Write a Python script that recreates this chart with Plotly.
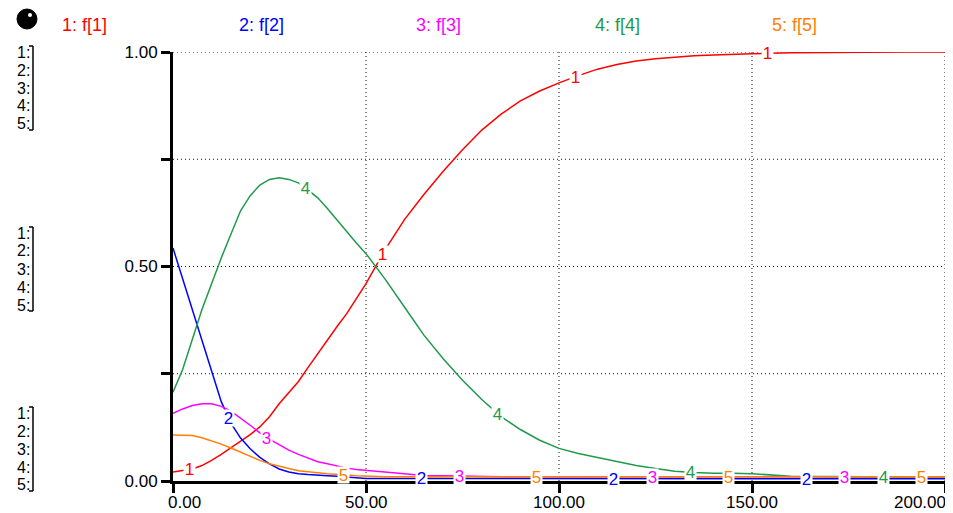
import numpy as np
import plotly.graph_objects as go

FONT = "Liberation Sans, Arial, sans-serif"

# ---------------- data ----------------
time = [0, 2.5, 5, 7.5, 10, 12.5, 15, 17.5, 20, 22.5, 25, 27.5, 30, 32.5, 35, 37.5, 40, 42.5, 45, 47.5, 50,
        55, 60, 65, 70, 75, 80, 85, 90, 95, 100, 105, 110, 115, 120, 125, 130, 135, 140, 145, 150,
        160, 170, 180, 190, 200]

f1 = [0.021, 0.024, 0.028, 0.036, 0.048, 0.062, 0.077, 0.092, 0.108, 0.126, 0.150, 0.180, 0.207, 0.232, 0.265,
      0.297, 0.330, 0.360, 0.390, 0.425, 0.460,
      0.540, 0.610, 0.668, 0.722, 0.772, 0.818, 0.855, 0.886, 0.909, 0.928, 0.945, 0.960, 0.971, 0.979, 0.984,
      0.988, 0.991, 0.993, 0.995, 0.996,
      0.998, 0.999, 1.0, 1.0, 1.0]

f2 = [0.543, 0.471, 0.397, 0.325, 0.254, 0.185, 0.135, 0.100, 0.075, 0.055, 0.040, 0.028, 0.021, 0.017, 0.015,
      0.013, 0.012, 0.011, 0.009, 0.007, 0.006,
      0.006, 0.006, 0.006, 0.006, 0.006, 0.006, 0.006, 0.006, 0.006, 0.006, 0.005, 0.005, 0.005, 0.005, 0.005,
      0.005, 0.005, 0.005, 0.005, 0.005,
      0.005, 0.005, 0.005, 0.005, 0.005]

f3 = [0.158, 0.168, 0.176, 0.180, 0.180, 0.174, 0.163, 0.147, 0.130, 0.112, 0.097, 0.085, 0.072, 0.062, 0.053,
      0.045, 0.040, 0.035, 0.030, 0.027, 0.025,
      0.020, 0.016, 0.013, 0.012, 0.011, 0.010, 0.010, 0.010, 0.010, 0.010, 0.010, 0.010, 0.010, 0.010, 0.010,
      0.010, 0.010, 0.010, 0.010, 0.010,
      0.010, 0.010, 0.010, 0.010, 0.010]

f4 = [0.207, 0.260, 0.330, 0.400, 0.460, 0.520, 0.575, 0.630, 0.665, 0.690, 0.703, 0.707, 0.703, 0.695, 0.678,
      0.660, 0.635, 0.608, 0.580, 0.555, 0.530,
      0.470, 0.405, 0.340, 0.285, 0.235, 0.190, 0.150, 0.120, 0.095, 0.076, 0.064, 0.055, 0.045, 0.036, 0.029,
      0.023, 0.020, 0.018, 0.018, 0.017,
      0.011, 0.010, 0.010, 0.010, 0.010]

f5 = [0.107, 0.107, 0.106, 0.101, 0.094, 0.086, 0.077, 0.067, 0.058, 0.048, 0.040, 0.034, 0.029, 0.024, 0.021,
      0.019, 0.017, 0.016, 0.014, 0.012, 0.011,
      0.010, 0.010, 0.010, 0.010, 0.010, 0.010, 0.010, 0.010, 0.010, 0.010, 0.010, 0.010, 0.010, 0.010, 0.010,
      0.010, 0.010, 0.010, 0.010, 0.010,
      0.010, 0.010, 0.010, 0.010, 0.010]

series_names = ["1: f[1]", "2: f[2]", "3: f[3]", "4: f[4]", "5: f[5]"]
series_values = [f1, f2, f3, f4, f5]
series_colors = ["#ff0000", "#0000ff", "#ff00ff", "#1f9a4c", "#ff8000"]

x_tick_vals = [0, 50, 100, 150, 200]
x_tick_text = ["0.00", "50.00", "100.00", "150.00", "200.00"]
y_tick_vals = [0, 0.25, 0.5, 0.75, 1.0]
y_tick_text = ["0.00", "", "0.50", "", "1.00"]

# ---------------- layout geometry ----------------
# the page body has an 8px margin, so the figure is placed 8px right/down
OFF = 8
W, H = 953 - OFF, 513 - OFF
L, T = 173 - OFF, 52 - OFF
PW, PH = 772, 429
R = W - L - PW
B = H - T - PH


def px_x(p):
    """page pixel x -> paper fraction"""
    return (p - OFF - L) / PW


def px_y(p):
    """page pixel y -> paper fraction"""
    return (T + PH - (p - OFF)) / PH


fig = go.Figure()
for name, vals, col in zip(series_names, series_values, series_colors):
    fig.add_trace(go.Scatter(x=time, y=vals, mode="lines", name=name,
                             line=dict(color=col, width=1.5), showlegend=False))

shapes = []
# dotted grid
for xv in x_tick_vals[1:]:
    shapes.append(dict(type="line", xref="x", yref="y", x0=xv, x1=xv, y0=0, y1=1,
                       line=dict(color="#111111", width=1, dash="1px,3px"), layer="below"))
for yv in y_tick_vals[1:]:
    shapes.append(dict(type="line", xref="x", yref="y", x0=0, x1=200, y0=yv, y1=yv,
                       line=dict(color="#111111", width=1, dash="1px,3px"), layer="below"))

annotations = []
# curve number labels
for k, (vals, col) in enumerate(zip(series_values, series_colors)):
    for j in range(4):
        tl = 4.4 + 9.95 * k + 49.9 * j
        yl = float(np.interp(tl, time, vals))
        annotations.append(dict(x=tl, y=yl, xref="x", yref="y", text=str(k + 1), showarrow=False,
                                font=dict(family=FONT, size=17, color=col), bgcolor="white",
                                borderpad=0, width=11, height=16, xanchor="center", yanchor="middle"))

# header legend
header_centers = [84, 261, 438, 617, 794]
for name, col, cx in zip(series_names, series_colors, header_centers):
    annotations.append(dict(x=px_x(cx), y=px_y(25), xref="paper", yref="paper", text=name,
                            showarrow=False, font=dict(family=FONT, size=18, color=col),
                            xanchor="center", yanchor="middle"))

# x tick labels
for i, (xv, tx) in enumerate(zip(x_tick_vals, x_tick_text)):
    anchor, shift = "center", 0
    if i == 0:
        anchor, shift = "left", -7
    elif i == len(x_tick_vals) - 1:
        anchor, shift = "right", 3
    annotations.append(dict(x=xv, y=0, xref="x", yref="paper", text=tx, showarrow=False,
                            font=dict(family=FONT, size=17, color="black"),
                            xanchor=anchor, yanchor="top", xshift=shift, yshift=-10))

# left scale stacks "1:" ... "5:" with brackets
stack_tops = [52, 233, 413]
for top in stack_tops:
    for i in range(5):
        cy = top + 18 * i
        annotations.append(dict(x=px_x(31), y=px_y(cy), xref="paper", yref="paper", text=f"{i + 1}:",
                                showarrow=False, font=dict(family=FONT, size=16, color="black"),
                                height=17, borderpad=0,
                                xanchor="right", yanchor="middle"))
    y0p, y1p = px_y(top - 6), px_y(top + 78)
    shapes.append(dict(type="line", xref="paper", yref="paper", x0=px_x(33), x1=px_x(33), y0=y0p, y1=y1p,
                       line=dict(color="black", width=1.5)))
    shapes.append(dict(type="line", xref="paper", yref="paper", x0=px_x(29), x1=px_x(33), y0=y0p, y1=y0p,
                       line=dict(color="black", width=1.5)))
    shapes.append(dict(type="line", xref="paper", yref="paper", x0=px_x(29), x1=px_x(33), y0=y1p, y1=y1p,
                       line=dict(color="black", width=1.5)))

# ball icon
shapes.append(dict(type="circle", xref="paper", yref="paper", x0=px_x(17), x1=px_x(37), y0=px_y(29), y1=px_y(9),
                   fillcolor="black", line=dict(color="black", width=1)))
shapes.append(dict(type="circle", xref="paper", yref="paper", x0=px_x(28), x1=px_x(32), y0=px_y(17), y1=px_y(13),
                   fillcolor="white", line=dict(color="white", width=0)))

fig.update_layout(
    width=W, height=H, autosize=False,
    margin=dict(l=L, r=R, t=T, b=B, pad=0),
    paper_bgcolor="white", plot_bgcolor="white",
    font=dict(family=FONT, size=17, color="black"),
    shapes=shapes, annotations=annotations,
    xaxis=dict(range=[0, 200], showgrid=False, zeroline=False, showline=True, linewidth=3,
               linecolor="black", ticks="outside", ticklen=9, tickwidth=3, tickcolor="black",
               tickvals=x_tick_vals, showticklabels=False, fixedrange=True),
    yaxis=dict(range=[0, 1], showgrid=False, zeroline=False, showline=True, linewidth=3,
               linecolor="black", ticks="outside", ticklen=9, tickwidth=3, tickcolor="black",
               tickvals=y_tick_vals, ticktext=y_tick_text, tickfont=dict(family=FONT, size=17, color="black"),
               fixedrange=True),
)

fig.write_html("out.html")
